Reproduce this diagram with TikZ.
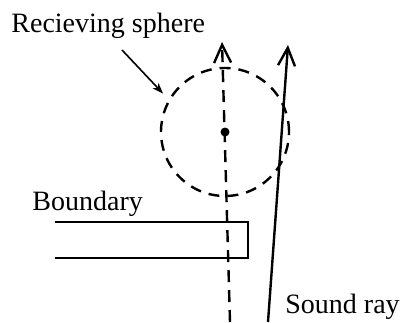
\documentclass[tikz,border=0pt]{standalone}
\usepackage{fontspec}
\setmainfont{Liberation Serif}
\usepackage{tikz}
\usetikzlibrary{positioning,arrows.meta,calc}
\tikzset{
  sphere/.style={circle, draw=black, line width=1.2pt, dash pattern=on 5.5pt off 4pt,
                 minimum size=64pt, inner sep=0pt},
  centre/.style={circle, fill=black, inner sep=0pt, minimum size=4.5pt},
  ray/.style={-{Straight Barb[length=9pt,width=8.5pt,line width=1.2pt]}, line width=1.2pt},
  axis/.style={ray, dash pattern=on 6pt off 4pt},
  wall/.style={line width=1.2pt},
  pointer/.style={-{Stealth[length=5.5pt,width=4pt]}, line width=0.8pt},
  lbl/.style={font=\fontsize{14}{16}\selectfont, inner sep=0pt, anchor=base west},
}
\begin{document}
\begin{tikzpicture}[x=0.5pt, y=0.5pt]
\useasboundingbox (0,0) rectangle (400,322);
% receiving sphere with its centre point
\node[sphere] (sph) at (225,190) {};
\node[centre] (ctr) at (sph.center) {};

% rays: the dashed one runs through the centre, the solid one grazes the edge
\coordinate (axisfoot) at (230,0);
\coordinate (axistip) at (222,280);
\coordinate (rayfoot) at (268,0);
\coordinate (raytip) at (288,277);
\draw[axis] (axisfoot) -- (axistip);
\draw[ray] (rayfoot) -- (raytip);

% boundary, open on the left
\coordinate (bta) at (55,100);
\coordinate (btb) at (248,100);
\coordinate (bbb) at (248,64);
\coordinate (bba) at (55,64);
\draw[wall] (bta) -- (btb) -- (bbb) -- (bba);

% labels
\node[lbl] (sphlbl) at (11,290) {Recieving sphere};
\node[lbl] (bndlbl) at (32,112) {Boundary};
\node[lbl] (raylbl) at (285,9) {Sound ray};
\coordinate (ptail) at (122,272);
\draw[pointer, shorten >=4pt] (ptail) -- (sph.150);
\end{tikzpicture}
\end{document}
